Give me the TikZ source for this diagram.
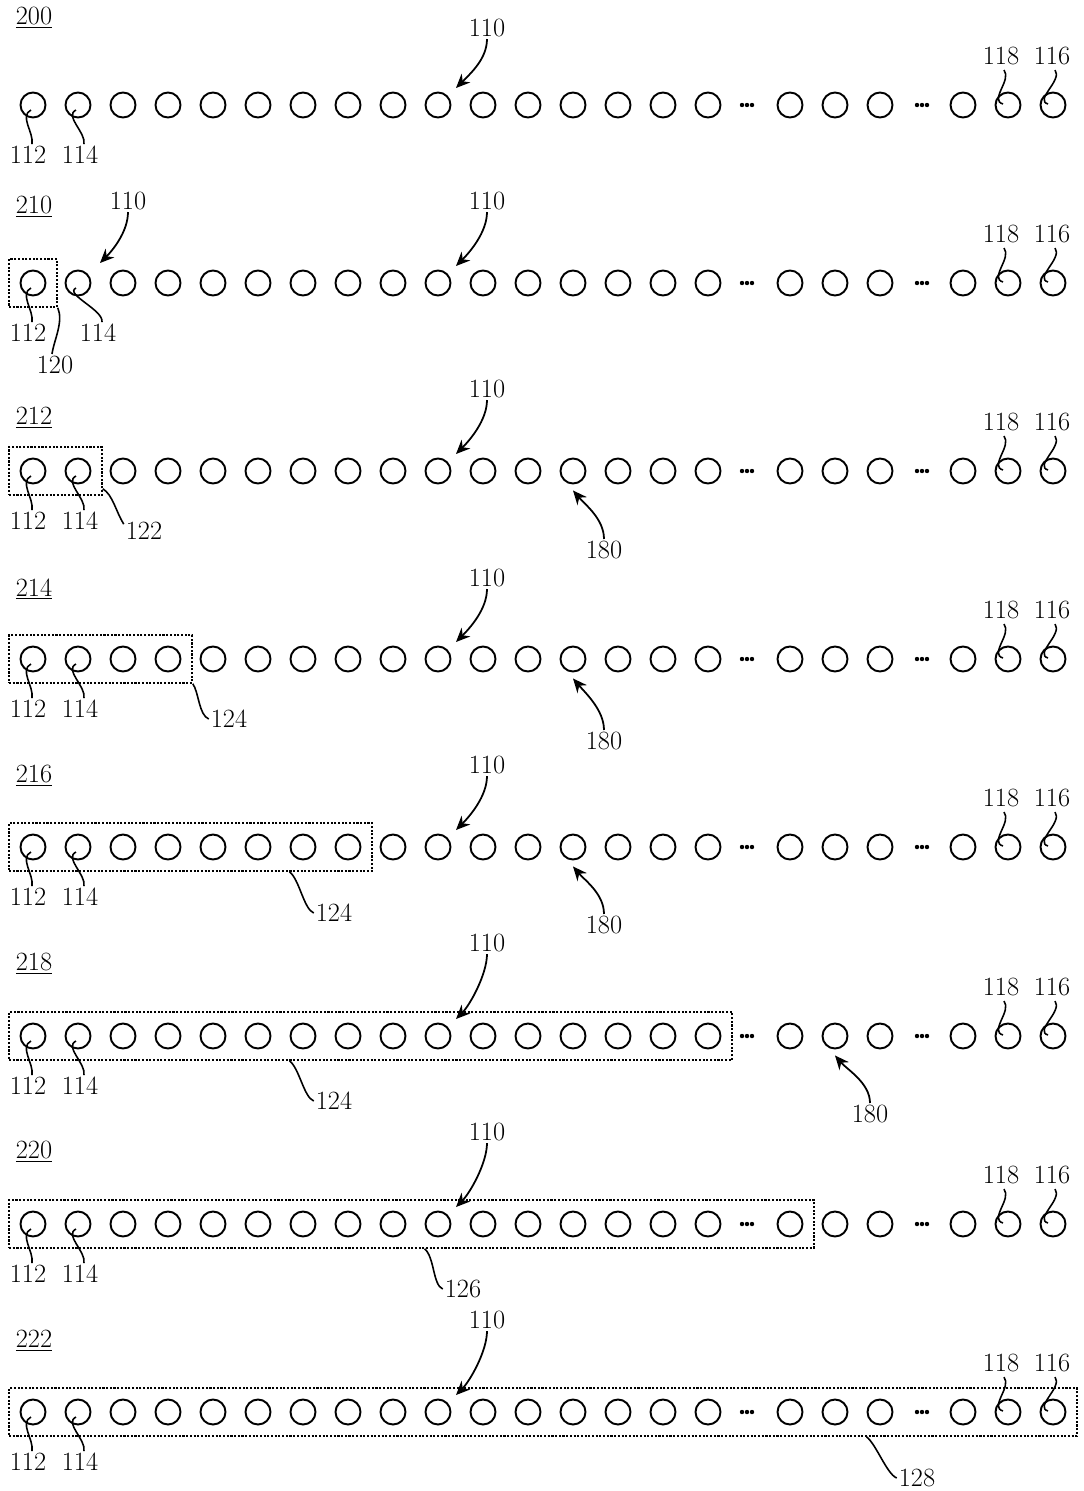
\documentclass[tikz,border=0pt]{standalone}
\usepackage{fontspec}
\usepackage{tikz}
\usetikzlibrary{arrows.meta,positioning,fit}

\tikzset{
  cell/.style={circle,draw,line width=1.1pt,minimum size=0.5cm,inner sep=0pt},
  ref/.style={inner sep=1pt},
  lead/.style={line width=0.9pt},
  pointer/.style={line width=1pt,-{Stealth[length=8pt,width=7pt]}},
  grp/.style={draw,line width=0.9pt,dash pattern=on 1.2pt off 0.9pt,inner sep=0.21cm}
}

\begin{document}
\begin{tikzpicture}[x=0.02cm,y=-0.02cm,font=\fontsize{15}{17}\selectfont]
\useasboundingbox (0,0) rectangle (1084,1491);
\foreach \r/\y/\tag/\ty/\ly/\qx in {0/105/200/18/28/80, 1/283/210/207/201/98,
  2/471/212/418/389/80, 3/659/214/589/578/80, 4/847/216/776/765/80,
  5/1036/218/964/943/80, 6/1224/220/1152/1132/80, 7/1412/222/1341/1320/80}{
  \foreach \x [count=\i from 0] in {33,78,123,168,213,258,303,348,393,438,483,528,
    573,618,663,708,790,835,880,963,1008,1053}
    \node[cell] (c\r-\i) at (\x,\y) {};
  \foreach \d in {747,922}
    \foreach \k in {-5,0,5}
      \fill (\d+\k,\y) circle (2.2);
  \node[ref] (tag\r) at (34,\ty) {\underline{\tag}};
  \node[ref] (a\r-112) at (28,\y+50) {112};
  \node[ref] (a\r-114) at (\qx,\y+50) {114};
  \node[ref] (a\r-118) at (1001,\y-49) {118};
  \node[ref] (a\r-116) at (1052,\y-49) {116};
  \node[ref] (a\r-110) at (487,\ly) {110};
  \coordinate (t\r) at (456,\y-17);
  \draw[lead] ([shift={(-2,5)}]c\r-0.center) .. controls +(-12,6) and +(2,-12) .. ([shift={(4,0)}]a\r-112.north);
  \draw[lead] ([shift={(-2,5)}]c\r-1.center) .. controls +(-12,6) and +(2,-12) .. ([shift={(4,0)}]a\r-114.north);
  \draw[lead] ([shift={(3,3)}]a\r-118.south) .. controls +(8,10) and +(-14,-4) .. ([shift={(-5,-1)}]c\r-20.center);
  \draw[lead] ([shift={(3,3)}]a\r-116.south) .. controls +(8,10) and +(-14,-4) .. ([shift={(-5,-1)}]c\r-21.center);
  \draw[pointer] (a\r-110.south) .. controls +(0,20) and +(14,-14) .. (t\r);
}
\node[ref] (a1-110b) at (128,201) {110};
\coordinate (t1b) at (100,263);
\draw[pointer] (a1-110b.south) .. controls +(0,20) and +(12,-12) .. (t1b);

\node[grp,fit=(c1-0)] (b1) {};
\node[grp,fit=(c2-0)(c2-1)] (b2) {};
\node[grp,fit=(c3-0)(c3-3)] (b3) {};
\node[grp,fit=(c4-0)(c4-7)] (b4) {};
\node[grp,fit=(c5-0)(c5-15)] (b5) {};
\node[grp,fit=(c6-0)(c6-16)] (b6) {};
\node[grp,fit=(c7-0)(c7-21)] (b7) {};

\node[ref] (a1-120) at (55,365) {120};
\draw[lead] (b1.south east) .. controls +(6,14) and +(2,-14) .. ([shift={(-3,0)}]a1-120.north);
\node[ref] (a2-122) at (144,531) {122};
\draw[lead] ([shift={(0,-7)}]b2.south east) .. controls +(10,6) and +(-8,-13) .. ([shift={(0,4)}]a2-122.north west);
\node[ref] (a3-124) at (229,719) {124};
\draw[lead] (b3.south east) .. controls +(6,8) and +(-10,-4) .. (a3-124.west);
\foreach \r/\k/\txt/\lx/\ly in {4/6/124/334/913, 5/6/124/334/1101, 6/9/126/463/1289, 7/18/128/917/1478}{
  \node[ref] (a\r-\txt) at (\lx,\ly) {\txt};
  \draw[lead] (b\r.south -| c\r-\k.west) .. controls +(10,8) and +(-10,-4) .. (a\r-\txt.west);
}

\foreach \r/\k/\lx/\ly in {2/12/604/550, 3/12/604/741, 4/12/604/925, 5/17/870/1114}{
  \node[ref] (a\r-180) at (\lx,\ly) {180};
  \draw[pointer] (a\r-180.north) .. controls +(0,-20) and +(12,14) .. ([shift={(0,6)}]c\r-\k.south);
}
\end{tikzpicture}
\end{document}
